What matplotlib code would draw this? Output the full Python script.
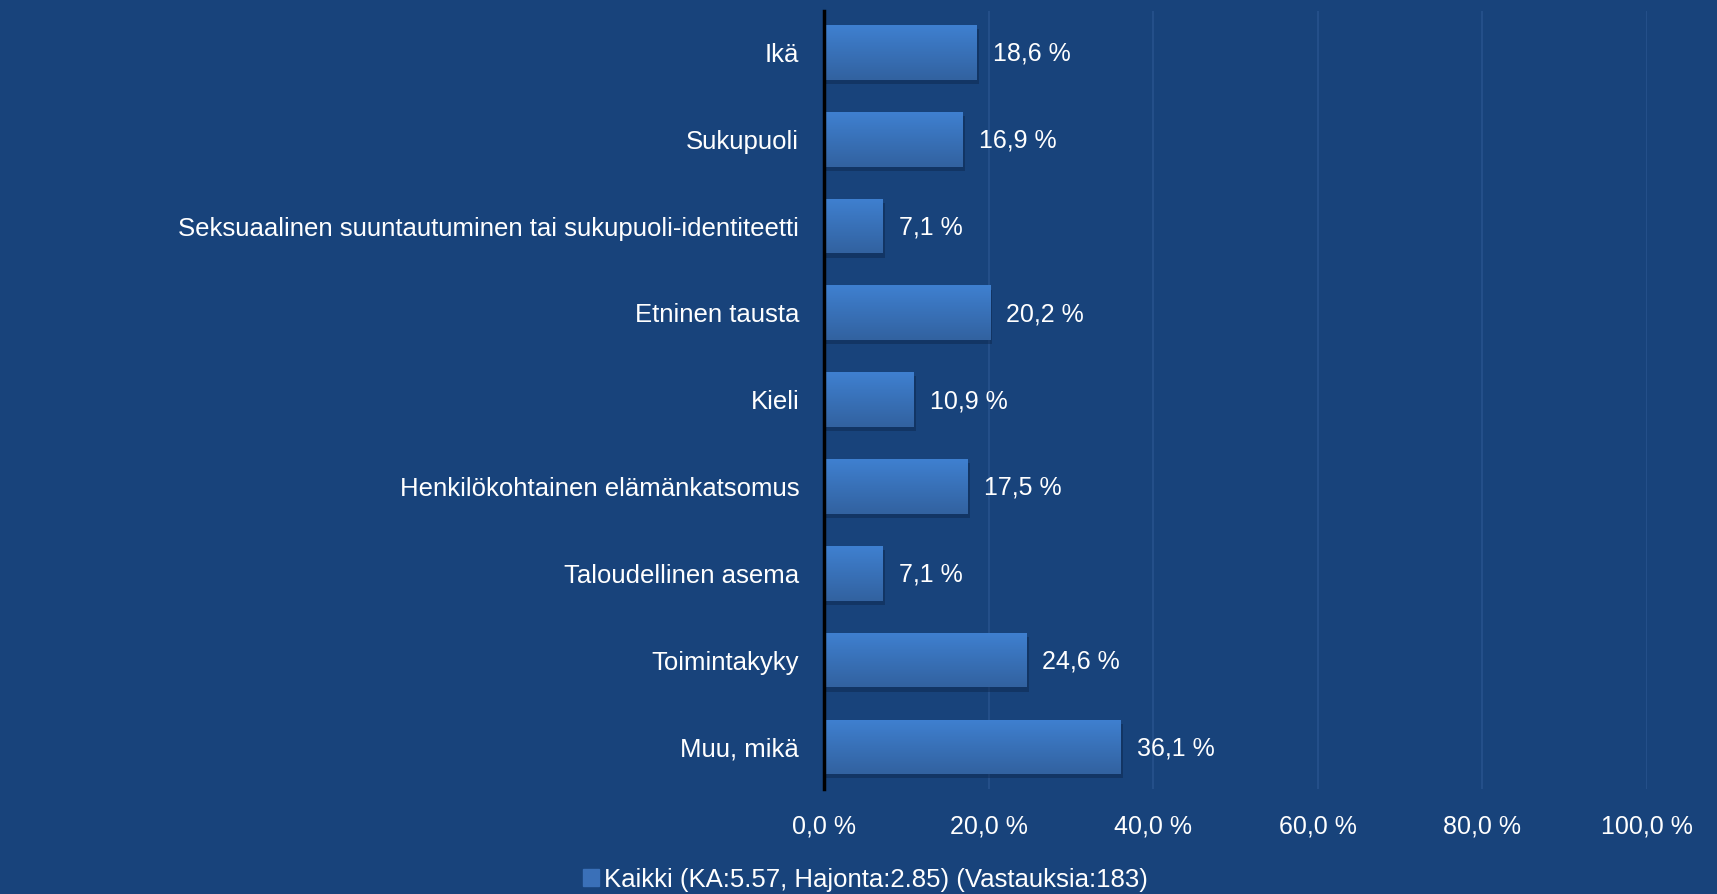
import numpy as np
import matplotlib.pyplot as plt
import matplotlib.patheffects as pe
from matplotlib.colors import LinearSegmentedColormap

categories = ["Ikä", "Sukupuoli",
              "Seksuaalinen suuntautuminen tai sukupuoli-identiteetti",
              "Etninen tausta", "Kieli", "Henkilökohtainen elämänkatsomus",
              "Taloudellinen asema", "Toimintakyky", "Muu, mikä"]
values = [18.6, 16.9, 7.1, 20.2, 10.9, 17.5, 7.1, 24.6, 36.1]
xticks = [0, 20, 40, 60, 80, 100]
legend_label = "Kaikki (KA:5.57, Hajonta:2.85) (Vastauksia:183)"

BG = '#18437b'
FG = 'white'
plt.rcParams['font.family'] = ['Liberation Sans', 'DejaVu Sans']

fig = plt.figure(figsize=(17.17, 8.94), dpi=100, facecolor=BG)
ax = fig.add_axes([0.480, 0.117, 0.479, 0.871], facecolor=BG)

y = np.arange(len(categories))
bars = ax.barh(y, values, height=0.63, color='#3a70b8', zorder=3,
               path_effects=[pe.SimplePatchShadow(offset=(1.5, -3), shadow_rgbFace='#0c2448', alpha=0.45),
                             pe.Normal()])

# vertical gradient inside each bar
grad = LinearSegmentedColormap.from_list('g', ['#3f80d0', '#3262a0'])
for b in bars:
    x0, y0 = b.get_x(), b.get_y()
    w, h = b.get_width(), b.get_height()
    im = ax.imshow(np.linspace(0, 1, 64).reshape(-1, 1), cmap=grad, aspect='auto',
                   extent=(x0, x0 + w, y0 + h, y0), zorder=4, interpolation='bicubic')
    im.set_clip_path(b)

for yi, v in zip(y, values):
    ax.annotate(f"{v:.1f} %".replace('.', ','), (v, yi), xytext=(11.5, -1),
                textcoords='offset points', va='center', ha='left',
                color=FG, fontsize=18, zorder=5)

ax.set_xlim(0, 100)
ax.set_ylim(len(categories) - 0.51, -0.48)
ax.set_yticks(y)
ax.set_yticklabels(categories, fontsize=18.5, color=FG, va='center_baseline')
ax.set_xticks(xticks)
ax.set_xticklabels([f"{t:.1f} %".replace('.', ',') for t in xticks], fontsize=18, color=FG)
ax.tick_params(length=0)
ax.tick_params(axis='y', pad=18)
ax.tick_params(axis='x', pad=18)
ax.grid(axis='x', color='#26518b', lw=1.3, zorder=0)
for s in ('top', 'right', 'bottom'):
    ax.spines[s].set_visible(False)
ax.spines['left'].set_color('black')
ax.spines['left'].set_linewidth(2.5)
ax.spines['left'].set_zorder(6)

leg = fig.legend(handles=[plt.Rectangle((0, 0), 1, 1, color='#3a70b8')], labels=[legend_label],
                 loc='center', bbox_to_anchor=(0.504, 0.016), frameon=False,
                 handlelength=0.6, handleheight=0.6, handletextpad=0.2,
                 prop={'size': 18.5})
for t in leg.get_texts():
    t.set_color(FG)

fig.savefig('out.png', dpi=100, facecolor=BG)
